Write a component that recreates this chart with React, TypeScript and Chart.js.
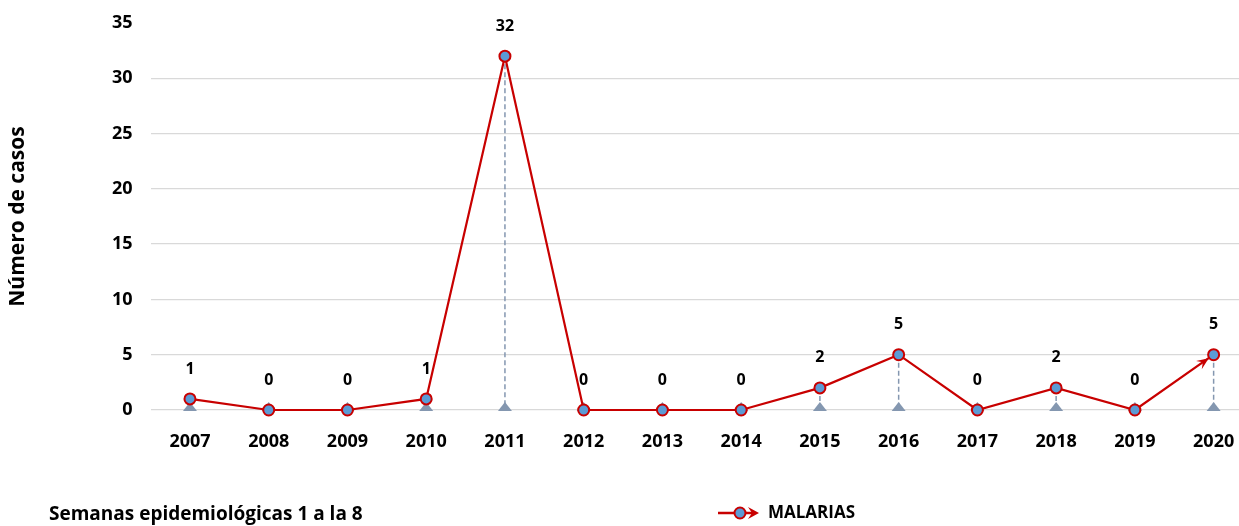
import { useEffect, useRef } from "react";
import { Chart, registerables } from "chart.js";

Chart.register(...registerables);

const years = ["2007", "2008", "2009", "2010", "2011", "2012", "2013", "2014", "2015", "2016", "2017", "2018", "2019", "2020"];
const malarias = [1, 0, 0, 1, 32, 0, 0, 0, 2, 5, 0, 2, 0, 5];
const yMin = 0;
const yMax = 35;
const yStep = 5;
const seriesName = "MALARIAS";
const yTitle = "Número de casos";
const footnote = "Semanas epidemiológicas 1 a la 8";

const FONT = "'Open Sans', 'DejaVu Sans', sans-serif";
const RED = "#C80000";
const BLUE = "#5B9BD5";
const DROP = "#8497B0";

export default function App() {
  const ref = useRef<HTMLCanvasElement | null>(null);

  useEffect(() => {
    const canvas = ref.current;
    if (!canvas) return;

    const decorations = {
      id: "decorations",
      beforeDatasetsDraw(chart: any) {
        const ctx = chart.ctx;
        const xs = chart.scales.x;
        const ys = chart.scales.y;
        const y0 = ys.getPixelForValue(0);
        ctx.save();
        malarias.forEach((v, i) => {
          const x = xs.getPixelForValue(i);
          const y = ys.getPixelForValue(v);
          if (v > 0) {
            ctx.strokeStyle = DROP;
            ctx.lineWidth = 1.5;
            ctx.setLineDash([5, 3]);
            ctx.beginPath();
            ctx.moveTo(x, y);
            ctx.lineTo(x, y0 - 6);
            ctx.stroke();
            ctx.setLineDash([]);
          }
          ctx.fillStyle = DROP;
          ctx.beginPath();
          ctx.moveTo(x - 7, y0 + 1);
          ctx.lineTo(x + 7, y0 + 1);
          ctx.lineTo(x, y0 - 8);
          ctx.closePath();
          ctx.fill();
        });
        ctx.restore();
      },
      afterDatasetsDraw(chart: any) {
        const ctx = chart.ctx;
        const meta = chart.getDatasetMeta(0);
        ctx.save();
        const n = meta.data.length;
        const a = meta.data[n - 2];
        const b = meta.data[n - 1];
        const ang = Math.atan2(b.y - a.y, b.x - a.x);
        const tipX = b.x - Math.cos(ang) * 6;
        const tipY = b.y - Math.sin(ang) * 6;
        const len = 12;
        const hw = 5;
        const bx = tipX - Math.cos(ang) * len;
        const by = tipY - Math.sin(ang) * len;
        ctx.fillStyle = RED;
        ctx.beginPath();
        ctx.moveTo(tipX, tipY);
        ctx.lineTo(bx - Math.sin(ang) * hw, by + Math.cos(ang) * hw);
        ctx.lineTo(tipX - Math.cos(ang) * len * 0.6, tipY - Math.sin(ang) * len * 0.6);
        ctx.lineTo(bx + Math.sin(ang) * hw, by - Math.cos(ang) * hw);
        ctx.closePath();
        ctx.fill();

        ctx.fillStyle = "#000";
        ctx.font = `bold 16px ${FONT}`;
        ctx.textAlign = "center";
        ctx.textBaseline = "middle";
        meta.data.forEach((pt: any, i: number) => {
          ctx.fillText(String(malarias[i]), pt.x, pt.y - 30);
        });
        ctx.restore();
      },
      afterDraw(chart: any) {
        const ctx = chart.ctx;
        const ys = chart.scales.y;
        ctx.save();
        ctx.fillStyle = "#000";
        ctx.font = `bold 21px ${FONT}`;
        ctx.textAlign = "center";
        ctx.textBaseline = "middle";
        ctx.translate(18, (ys.top + ys.bottom) / 2);
        ctx.rotate(-Math.PI / 2);
        ctx.fillText(yTitle, 0, 0);
        ctx.restore();

        ctx.save();
        ctx.fillStyle = "#000";
        ctx.font = `bold 19px ${FONT}`;
        ctx.textAlign = "left";
        ctx.textBaseline = "middle";
        ctx.fillText(footnote, 49, 515);

        const ly = 513;
        ctx.strokeStyle = RED;
        ctx.lineWidth = 2.5;
        ctx.beginPath();
        ctx.moveTo(718, ly);
        ctx.lineTo(752, ly);
        ctx.stroke();
        ctx.fillStyle = RED;
        ctx.beginPath();
        ctx.moveTo(759, ly);
        ctx.lineTo(748, ly - 6);
        ctx.lineTo(752, ly);
        ctx.lineTo(748, ly + 6);
        ctx.closePath();
        ctx.fill();
        ctx.beginPath();
        ctx.arc(740, ly, 5.5, 0, Math.PI * 2);
        ctx.fillStyle = BLUE;
        ctx.fill();
        ctx.lineWidth = 2;
        ctx.strokeStyle = RED;
        ctx.stroke();
        ctx.fillStyle = "#000";
        ctx.font = `bold 17px ${FONT}`;
        ctx.textAlign = "left";
        ctx.textBaseline = "middle";
        ctx.fillText(seriesName, 768, ly);
        ctx.restore();
      },
    };

    const chart = new Chart(canvas, {
      type: "line",
      data: {
        labels: years,
        datasets: [
          {
            label: seriesName,
            data: malarias,
            borderColor: RED,
            borderWidth: 2.2,
            pointRadius: 5.5,
            pointBorderWidth: 2,
            pointBackgroundColor: BLUE,
            pointBorderColor: RED,
            tension: 0,
            clip: false as any,
          },
        ],
      },
      options: {
        responsive: false,
        animation: false,
        layout: { autoPadding: false, padding: { top: 23, left: 0, right: 0, bottom: 0 } },
        plugins: {
          legend: { display: false },
          tooltip: { enabled: false },
        },
        scales: {
          x: {
            offset: true,
            grid: { display: false },
            border: { display: false },
            ticks: {
              color: "#000",
              font: { family: FONT, size: 18, weight: "bold" },
              padding: 13,
              maxRotation: 0,
              autoSkip: false,
            },
            afterFit(scale: any) {
              scale.height = 116;
              scale.paddingLeft = 0;
              scale.paddingRight = 0;
            },
          },
          y: {
            min: yMin,
            max: yMax,
            grid: {
              drawTicks: false,
              color: (c: any) => (c.tick && c.tick.value === yMax ? "rgba(0,0,0,0)" : "#d9d9d9"),
              lineWidth: 1.3,
            },
            border: { display: false },
            ticks: {
              stepSize: yStep,
              color: "#000",
              font: { family: FONT, size: 18, weight: "bold" },
              padding: 18,
            },
            afterFit(scale: any) {
              scale.width = 150.6;
              scale.paddingTop = 0;
              scale.paddingBottom = 0;
            },
          },
        },
      },
      plugins: [decorations],
    });

    return () => chart.destroy();
  }, []);

  return (
    <div style={{ position: "fixed", left: 0, top: 0, width: 1239, height: 526, overflow: "hidden", background: "#fff" }}>
      <canvas ref={ref} width={1253} height={526} style={{ width: 1253, height: 526, display: "block" }} />
    </div>
  );
}
